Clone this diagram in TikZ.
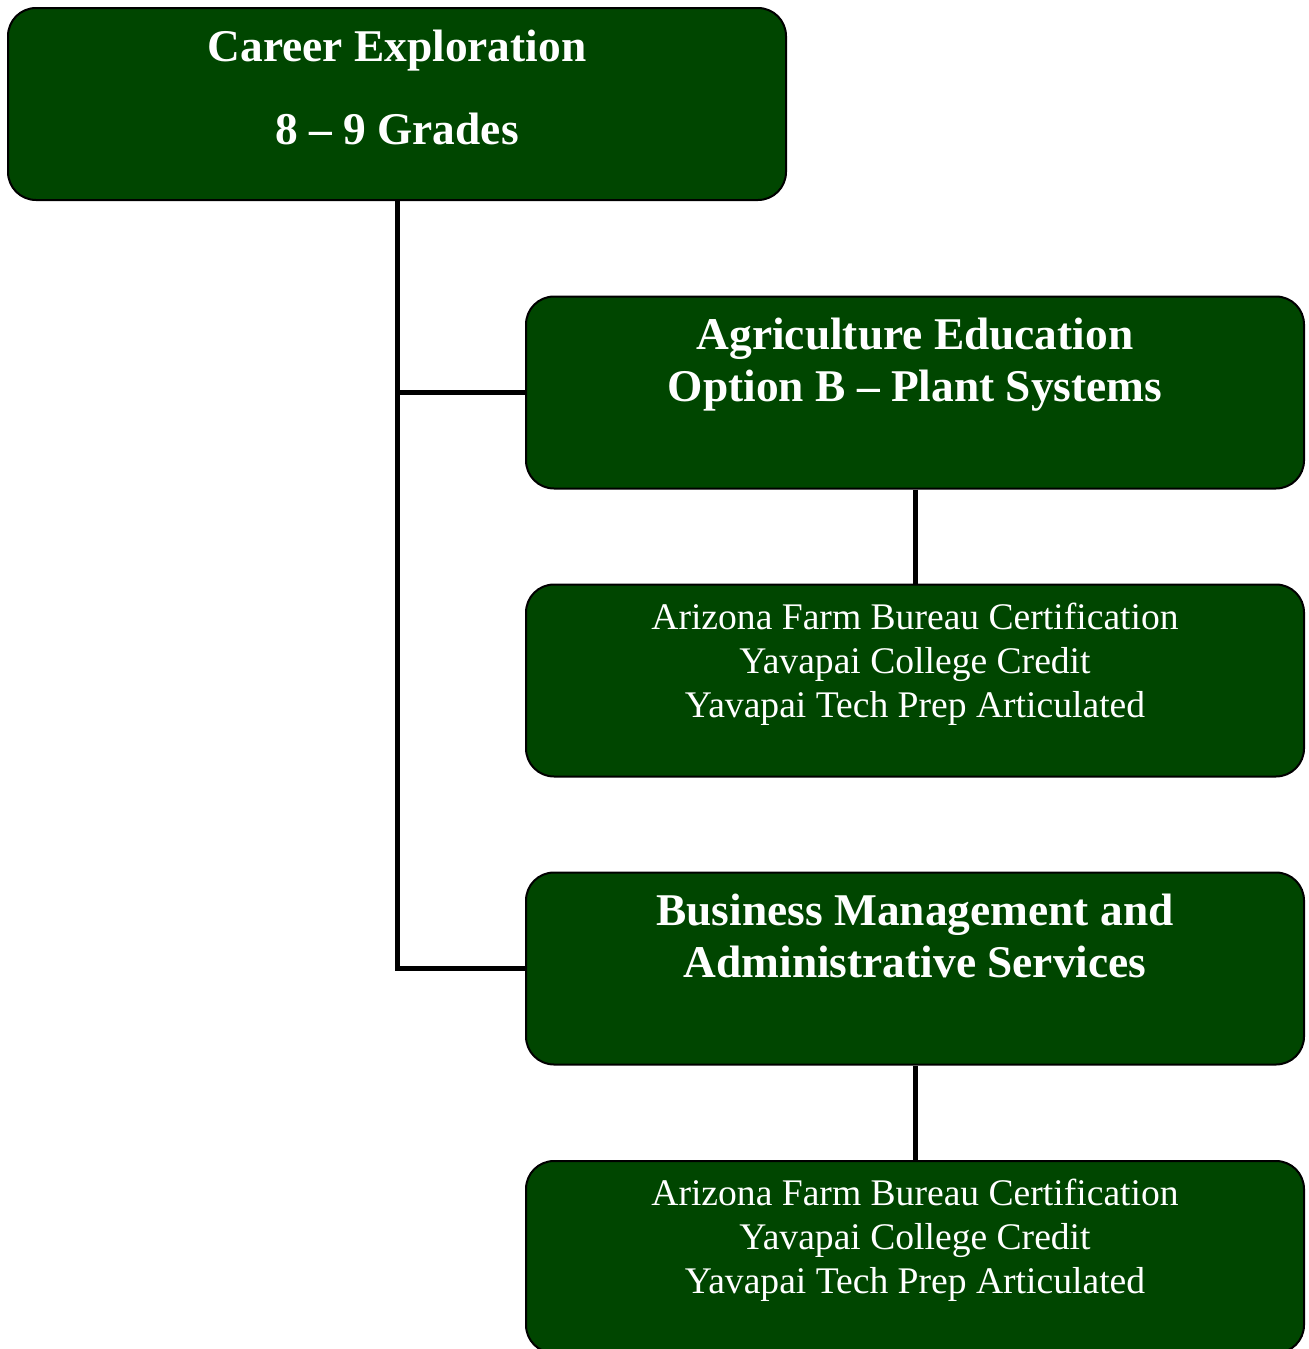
\documentclass[tikz,border=0pt]{standalone}
\usepackage{fontspec}
\setmainfont{Liberation Serif}
\definecolor{boxgreen}{RGB}{0,70,0}

\begin{document}
\begin{tikzpicture}[x=0.5pt,y=-0.5pt,
  box/.style={draw=black,line width=1pt,fill=boxgreen,rounded corners=14pt,
    minimum width=389pt,minimum height=96pt,inner sep=0pt},
  head/.style={text=white,font=\bfseries\fontsize{22.7}{26}\selectfont,align=center,anchor=base,inner sep=0pt},
  info/.style={text=white,font=\fontsize{18.8}{22}\selectfont,align=center,anchor=base,inner sep=0pt},
  link/.style={line width=2.5pt}]
\useasboundingbox (0,0) rectangle (1308,1349);

% boxes
\node[box] (explore) at (397,104) {};
\node[box] (agri) at (915,392.5) {};
\node[box] (agricred) at (915,680.5) {};
\node[box] (biz) at (915,968.5) {};
\node[box] (bizcred) at (915,1257) {};

% connectors
\draw[link] (explore.south) |- (agri.west);
\draw[link] (explore.south) |- (biz.west);
\draw[link] (agri.south) -- (agricred.north);
\draw[link] (biz.south) -- (bizcred.north);

% texts (base = last line)
\node[head] (exploretext) at ([yshift=-68.5pt]explore.north) {Career Exploration\\[15.5pt]8 – 9 Grades};
\node[head] (agritext) at ([yshift=-53pt]agri.north) {Agriculture Education\\Option B – Plant Systems};
\node[info] (agricredtext) at ([yshift=-66.8pt]agricred.north) {Arizona Farm Bureau Certification\\Yavapai College Credit\\Yavapai Tech Prep Articulated};
\node[head] (biztext) at ([yshift=-53pt]biz.north) {Business Management and\\Administrative Services};
\node[info] (bizcredtext) at ([yshift=-66.8pt]bizcred.north) {Arizona Farm Bureau Certification\\Yavapai College Credit\\Yavapai Tech Prep Articulated};
\end{tikzpicture}
\end{document}
